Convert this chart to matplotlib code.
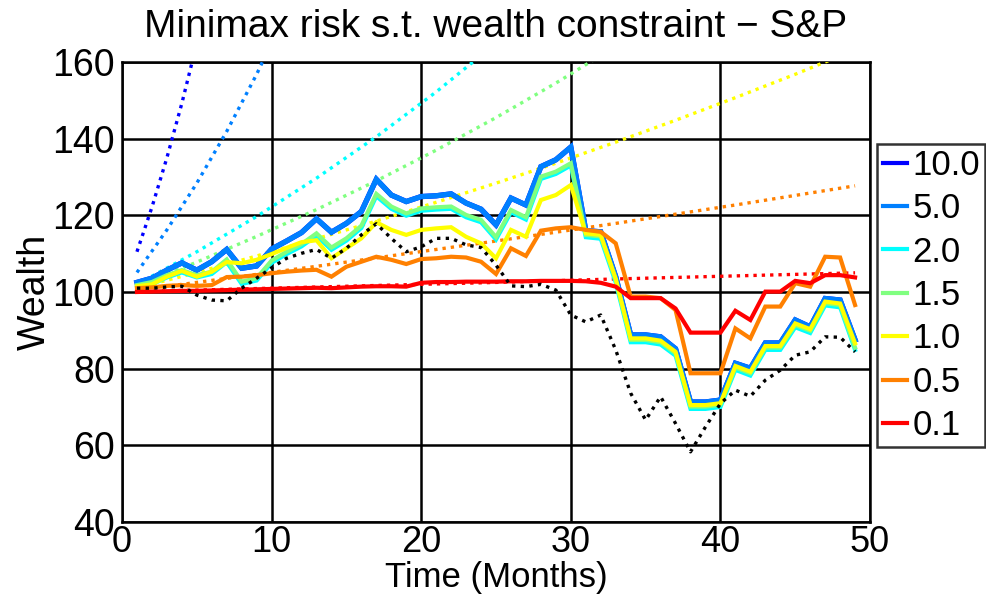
import matplotlib
matplotlib.use("Agg")
import matplotlib.pyplot as plt

plt.rcParams['font.family'] = ['Liberation Sans', 'DejaVu Sans']

months = list(range(1, 50))

# Realised wealth for each risk-aversion level
wealth_10_0 = [102.5, 103.6, 105.7, 107.6, 105.7, 107.9, 111.1, 106.2, 106.8, 111.2,
               113.3, 115.5, 119.1, 115.6, 117.9, 121.0, 129.4, 125.3, 123.6, 124.9,
               125.1, 125.6, 123.2, 121.6, 117.5, 124.5, 122.7, 132.7, 134.5, 137.8,
               116.0, 115.7, 104.0, 88.8, 88.8, 88.3, 85.2, 71.3, 71.3, 71.8,
               81.4, 80.1, 86.7, 86.7, 92.7, 90.9, 98.3, 97.9, 87.5]
wealth_5_0 = [102.5, 103.6, 105.7, 107.6, 105.7, 107.9, 111.1, 106.2, 106.8, 111.2,
              113.3, 115.5, 119.1, 115.6, 117.9, 121.0, 129.4, 125.3, 123.6, 124.9,
              125.1, 125.6, 123.2, 121.6, 117.5, 124.5, 122.7, 132.7, 134.5, 137.8,
              116.0, 115.7, 104.0, 88.8, 88.8, 88.3, 85.2, 71.3, 71.3, 71.8,
              81.4, 80.1, 86.7, 86.7, 92.7, 90.9, 98.3, 97.9, 87.5]
wealth_2_0 = [101.3, 102.0, 103.8, 105.1, 103.8, 104.7, 107.8, 102.1, 103.0, 107.6,
              109.9, 111.9, 114.7, 111.0, 113.4, 116.7, 125.0, 121.7, 119.9, 121.2,
              121.5, 121.7, 119.5, 118.2, 113.7, 120.8, 118.9, 129.5, 130.8, 133.0,
              114.3, 113.9, 102.5, 86.9, 86.9, 86.3, 83.4, 69.5, 69.5, 70.0,
              79.7, 78.2, 84.9, 84.9, 90.8, 89.3, 96.5, 96.0, 84.9]
wealth_1_5 = [101.8, 102.6, 104.4, 105.7, 104.4, 105.3, 108.5, 102.7, 103.6, 108.2,
              110.5, 112.5, 115.3, 111.6, 114.0, 117.3, 125.6, 122.3, 120.5, 121.8,
              122.1, 122.3, 120.1, 118.8, 114.3, 121.4, 119.5, 130.1, 131.4, 133.6,
              114.9, 114.5, 103.1, 87.5, 87.5, 86.9, 84.0, 70.1, 70.1, 70.6,
              80.3, 78.8, 85.5, 85.5, 91.4, 89.9, 97.1, 96.6, 85.5]
wealth_1_0 = [101.5, 102.0, 104.0, 105.5, 104.0, 105.3, 107.8, 107.5, 108.4, 109.9,
              111.5, 113.0, 113.5, 108.8, 111.4, 114.0, 118.2, 116.2, 114.9, 116.2,
              116.6, 116.9, 114.4, 112.7, 108.8, 116.2, 114.4, 124.0, 125.3, 127.9,
              115.3, 114.9, 103.5, 87.9, 87.9, 87.3, 84.4, 70.5, 70.5, 71.0,
              80.7, 79.2, 85.9, 85.9, 91.8, 90.3, 97.5, 97.0, 86.6]
wealth_0_5 = [101.0, 101.2, 101.6, 101.8, 101.6, 101.8, 103.9, 104.0, 104.4, 104.9,
              105.3, 105.6, 105.8, 104.0, 106.6, 107.9, 109.2, 108.4, 107.3, 108.6,
              108.8, 109.2, 109.0, 107.9, 104.7, 111.4, 109.4, 116.0, 116.6, 116.9,
              116.2, 115.7, 112.7, 98.8, 98.8, 98.4, 95.3, 78.8, 78.8, 78.8,
              90.5, 87.9, 96.2, 96.2, 102.3, 101.4, 109.2, 109.0, 96.6]
wealth_0_1 = [100.0, 100.1, 100.2, 100.3, 100.3, 100.4, 100.5, 100.6, 100.7, 100.8,
              100.9, 101.0, 101.1, 101.0, 101.2, 101.4, 101.5, 101.5, 101.4, 102.4,
              102.6, 102.6, 102.7, 102.7, 102.7, 102.8, 102.8, 102.9, 102.9, 102.9,
              102.8, 102.4, 101.4, 98.4, 98.4, 98.4, 95.7, 89.4, 89.4, 89.4,
              95.1, 92.7, 100.1, 100.1, 102.9, 102.3, 104.4, 104.4, 103.8]

# S&P index wealth
sp_wealth = [101.0, 101.0, 101.3, 101.5, 99.2, 97.9, 97.7, 101.0, 103.6, 106.3,
             108.8, 110.1, 111.1, 108.8, 111.4, 114.9, 117.8, 114.0, 110.5, 111.8,
             114.0, 114.0, 112.3, 111.6, 107.0, 101.6, 101.4, 102.0, 100.5, 94.0,
             92.2, 94.0, 84.9, 73.6, 66.6, 72.7, 65.7, 58.3, 64.8, 70.9,
             74.4, 72.8, 77.0, 79.6, 83.5, 84.4, 88.3, 88.2, 84.4]

# Wealth constraint paths
target_10_0_t = [1, 2, 3, 4, 5]
target_10_0 = [110.5, 122.1, 135.0, 149.2, 164.9]
target_5_0_t = [1, 3, 5, 7, 9, 11]
target_5_0 = [105.1, 116.2, 128.4, 141.9, 156.8, 173.3]
target_2_0_t = [1, 5, 9, 13, 17, 21, 25]
target_2_0 = [102.0, 110.5, 119.7, 129.7, 140.5, 152.2, 164.9]
target_1_5_t = [1, 5, 9, 13, 17, 21, 25, 29, 33]
target_1_5 = [101.5, 107.8, 114.5, 121.5, 129.0, 137.0, 145.5, 154.5, 164.1]
target_1_0_t = [1, 5, 9, 13, 17, 21, 25, 29, 33, 37, 41, 45, 49]
target_1_0 = [101.0, 105.1, 109.4, 113.9, 118.5, 123.4, 128.4, 133.6, 139.1, 144.8,
              150.7, 156.8, 163.2]
target_0_5_t = [1, 5, 9, 13, 17, 21, 25, 29, 33, 37, 41, 45, 49]
target_0_5 = [100.5, 102.5, 104.6, 106.7, 108.9, 111.1, 113.3, 115.6, 117.9, 120.3,
              122.7, 125.2, 127.7]
target_0_1_t = [1, 9, 17, 25, 33, 41, 49]
target_0_1 = [100.1, 100.9, 101.7, 102.5, 103.4, 104.2, 105.0]

labels = ["10.0", "5.0", "2.0", "1.5", "1.0", "0.5", "0.1"]
colors = ["#0000ff", "#0080ff", "#00ffff", "#80ff80", "#ffff00", "#ff8000", "#ff0000"]

wealth_series = [wealth_10_0, wealth_5_0, wealth_2_0, wealth_1_5, wealth_1_0,
                 wealth_0_5, wealth_0_1]
target_series = [(target_10_0_t, target_10_0), (target_5_0_t, target_5_0),
                 (target_2_0_t, target_2_0), (target_1_5_t, target_1_5),
                 (target_1_0_t, target_1_0), (target_0_5_t, target_0_5),
                 (target_0_1_t, target_0_1)]

fig = plt.figure(figsize=(9.87, 5.98), dpi=100)
ax = fig.add_axes([0.1236, 0.1271, 0.7579, 0.7692])

for (tt, vv), c in zip(target_series, colors):
    ax.plot(tt, vv, color=c, lw=2.4, linestyle=(0, (1, 1.5)), zorder=3)

handles = []
for vals, c, lab in zip(wealth_series, colors, labels):
    lw = 3.8 if lab in ("10.0", "5.0") else 3.0
    h, = ax.plot(months, vals, color=c, lw=lw, label=lab, zorder=4,
                 solid_joinstyle='miter')
    handles.append(h)

ax.plot(months, sp_wealth, color="black", lw=2.4, linestyle=(0, (1, 1.6)), zorder=5)

ax.set_xlim(0, 50)
ax.set_ylim(40, 160)
ax.set_xticks(range(0, 51, 10))
ax.set_yticks(range(40, 161, 20))
ax.grid(True, color="black", lw=1.8)
ax.set_axisbelow(True)
for s in ax.spines.values():
    s.set_linewidth(1.8)
ax.tick_params(labelsize=27, length=0)
ax.tick_params(axis='y', pad=5)
ax.tick_params(axis='x', pad=2, labelsize=26)

ax.set_xlabel("Time (Months)", fontsize=25, labelpad=1)
ax.set_ylabel("Wealth", fontsize=27, labelpad=0)
ax.set_title("Minimax risk s.t. wealth constraint \u2212 S&P", fontsize=28, pad=18)

leg = fig.legend(handles=handles, loc="upper left", bbox_to_anchor=(0.889, 0.76),
                 fontsize=25, frameon=True, fancybox=False, handlelength=0.7,
                 handletextpad=0.15, labelspacing=0.3, borderpad=0.15,
                 borderaxespad=0.0)
leg.get_frame().set_edgecolor("black")
leg.get_frame().set_linewidth(1.8)
for h in leg.get_lines():
    h.set_linewidth(3)

fig.savefig("out.png", dpi=100)
